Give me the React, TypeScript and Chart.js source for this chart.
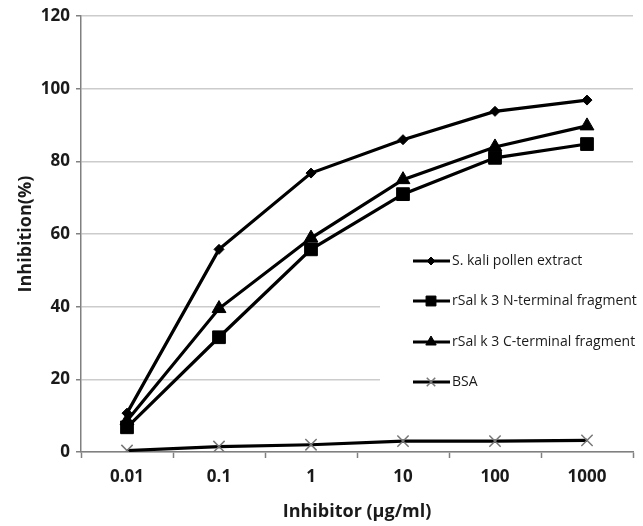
import React, { useEffect, useRef } from "react";
import { Chart, registerables } from "chart.js";

Chart.register(...registerables);

const categories = ["0.01", "0.1", "1", "10", "100", "1000"];
const seriesNames = [
  "S. kali pollen extract",
  "rSal k 3 N-terminal fragment",
  "rSal k 3 C-terminal fragment",
  "BSA",
];
const sKali = [10.7, 55.8, 76.8, 86, 93.8, 96.9];
const nTerm = [6.8, 31.6, 55.8, 71, 81, 84.8];
const cTerm = [8.6, 39.5, 58.9, 75, 84, 89.8];
const bsa = [0.4, 1.5, 2, 3, 3, 3.2];
const yTicks = [0, 20, 40, 60, 80, 100, 120];

const FONT = "'Open Sans', 'DejaVu Sans', sans-serif";

const styles = [
  { point: "rectRot", r: 5, lr: 4, color: "#000", bw: 1 },
  { point: "rect", r: 9, lr: 7, color: "#000", bw: 1 },
  { point: "triangle", r: 8, lr: 6, color: "#000", bw: 1 },
  { point: "crossRot", r: 8, lr: 6, color: "#777", bw: 1.5 },
];

function drawMarker(ctx: CanvasRenderingContext2D, style: string, r: number, x: number, y: number) {
  ctx.beginPath();
  if (style === "rectRot") {
    ctx.moveTo(x, y - r);
    ctx.lineTo(x + r, y);
    ctx.lineTo(x, y + r);
    ctx.lineTo(x - r, y);
    ctx.closePath();
    ctx.fill();
    ctx.stroke();
  } else if (style === "rect") {
    const s = Math.SQRT1_2 * r;
    ctx.rect(x - s, y - s, 2 * s, 2 * s);
    ctx.fill();
    ctx.stroke();
  } else if (style === "triangle") {
    const a = (Math.PI * 2) / 3;
    for (let k = 0; k < 3; k++) {
      const ang = -Math.PI / 2 + k * a;
      const px = x + Math.cos(ang) * r;
      const py = y + Math.sin(ang) * r;
      if (k === 0) ctx.moveTo(px, py);
      else ctx.lineTo(px, py);
    }
    ctx.closePath();
    ctx.fill();
    ctx.stroke();
  } else {
    const d = Math.SQRT1_2 * r;
    ctx.moveTo(x - d, y - d);
    ctx.lineTo(x + d, y + d);
    ctx.moveTo(x + d, y - d);
    ctx.lineTo(x - d, y + d);
    ctx.stroke();
  }
}

const legendPlugin = {
  id: "insideLegend",
  beforeDatasetsDraw(chart: any) {
    const { ctx, chartArea } = chart;
    ctx.save();
    ctx.fillStyle = "#fff";
    ctx.fillRect(380, 238, chartArea.right - 380, 160);
    ctx.restore();
  },
  afterDatasetsDraw(chart: any) {
    const { ctx } = chart;
    const rows = [261, 301, 342, 382];
    ctx.save();
    seriesNames.forEach((name, i) => {
      const y = rows[i];
      ctx.strokeStyle = "#000";
      ctx.lineWidth = 3;
      ctx.beginPath();
      ctx.moveTo(413, y);
      ctx.lineTo(450, y);
      ctx.stroke();
      const s = styles[i];
      ctx.fillStyle = s.color;
      ctx.strokeStyle = s.color;
      ctx.lineWidth = s.bw;
      drawMarker(ctx, s.point, s.lr, 431, y);
      ctx.fillStyle = "#1a1a1a";
      ctx.font = `14px ${FONT}`;
      ctx.textBaseline = "middle";
      ctx.textAlign = "left";
      ctx.fillText(name, 452, y);
    });
    ctx.restore();
  },
};

export default function App() {
  const ref = useRef<HTMLCanvasElement>(null);
  useEffect(() => {
    if (!ref.current) return;
    const data = [sKali, nTerm, cTerm, bsa];
    const chart = new Chart(ref.current, {
      type: "line",
      data: {
        labels: categories,
        datasets: data.map((d, i) => ({
          label: seriesNames[i],
          data: d,
          borderColor: "#000",
          borderWidth: 3.2,
          pointStyle: styles[i].point as any,
          pointRadius: styles[i].r,
          pointBackgroundColor: styles[i].color,
          pointBorderColor: styles[i].color,
          pointBorderWidth: styles[i].bw,
          tension: 0,
        })),
      },
      options: {
        animation: false,
        responsive: false,
        maintainAspectRatio: false,
        layout: { padding: { top: 16, right: 3, left: 0, bottom: 0 } },
        plugins: { legend: { display: false }, tooltip: { enabled: false } },
        scales: {
          x: {
            type: "category",
            offset: true,
            grid: {
              drawOnChartArea: false,
              offset: true,
              tickLength: 6,
              tickColor: "#808080",
              tickWidth: 1.5,
            },
            border: { color: "#808080", width: 1.5 },
            ticks: {
              color: "#1a1a1a",
              font: { family: FONT, size: 17, weight: "bold" },
              padding: 9,
              maxRotation: 0,
            },
            title: {
              display: true,
              text: "Inhibitor (µg/ml)",
              color: "#1a1a1a",
              font: { family: FONT, size: 18, weight: "bold" },
              padding: { top: 0, bottom: 3 },
            },
            afterFit: (s: any) => {
              s.height = 74;
            },
          },
          y: {
            min: 0,
            max: 120,
            afterBuildTicks: (s: any) => {
              s.ticks = yTicks.map((v) => ({ value: v }));
            },
            grid: {
              color: "#cccccc",
              lineWidth: 1.5,
              tickLength: 5,
              tickColor: "#808080",
              tickWidth: 1.5,
            },
            border: { color: "#808080", width: 1.5 },
            ticks: {
              color: "#1a1a1a",
              font: { family: FONT, size: 17, weight: "bold" },
              padding: 6,
            },
            title: {
              display: true,
              text: "Inhibition(%)",
              color: "#1a1a1a",
              font: { family: FONT, size: 18, weight: "bold" },
              padding: { top: 15, bottom: 0 },
            },
            afterFit: (s: any) => {
              s.width = 81;
            },
          },
        },
      },
      plugins: [legendPlugin],
    });
    return () => chart.destroy();
  }, []);
  return (
    <div style={{ position: "fixed", left: 0, top: 0, width: 643, height: 526, background: "#fff" }}>
      <canvas ref={ref} width={643} height={526} style={{ width: 643, height: 526 }} />
    </div>
  );
}
